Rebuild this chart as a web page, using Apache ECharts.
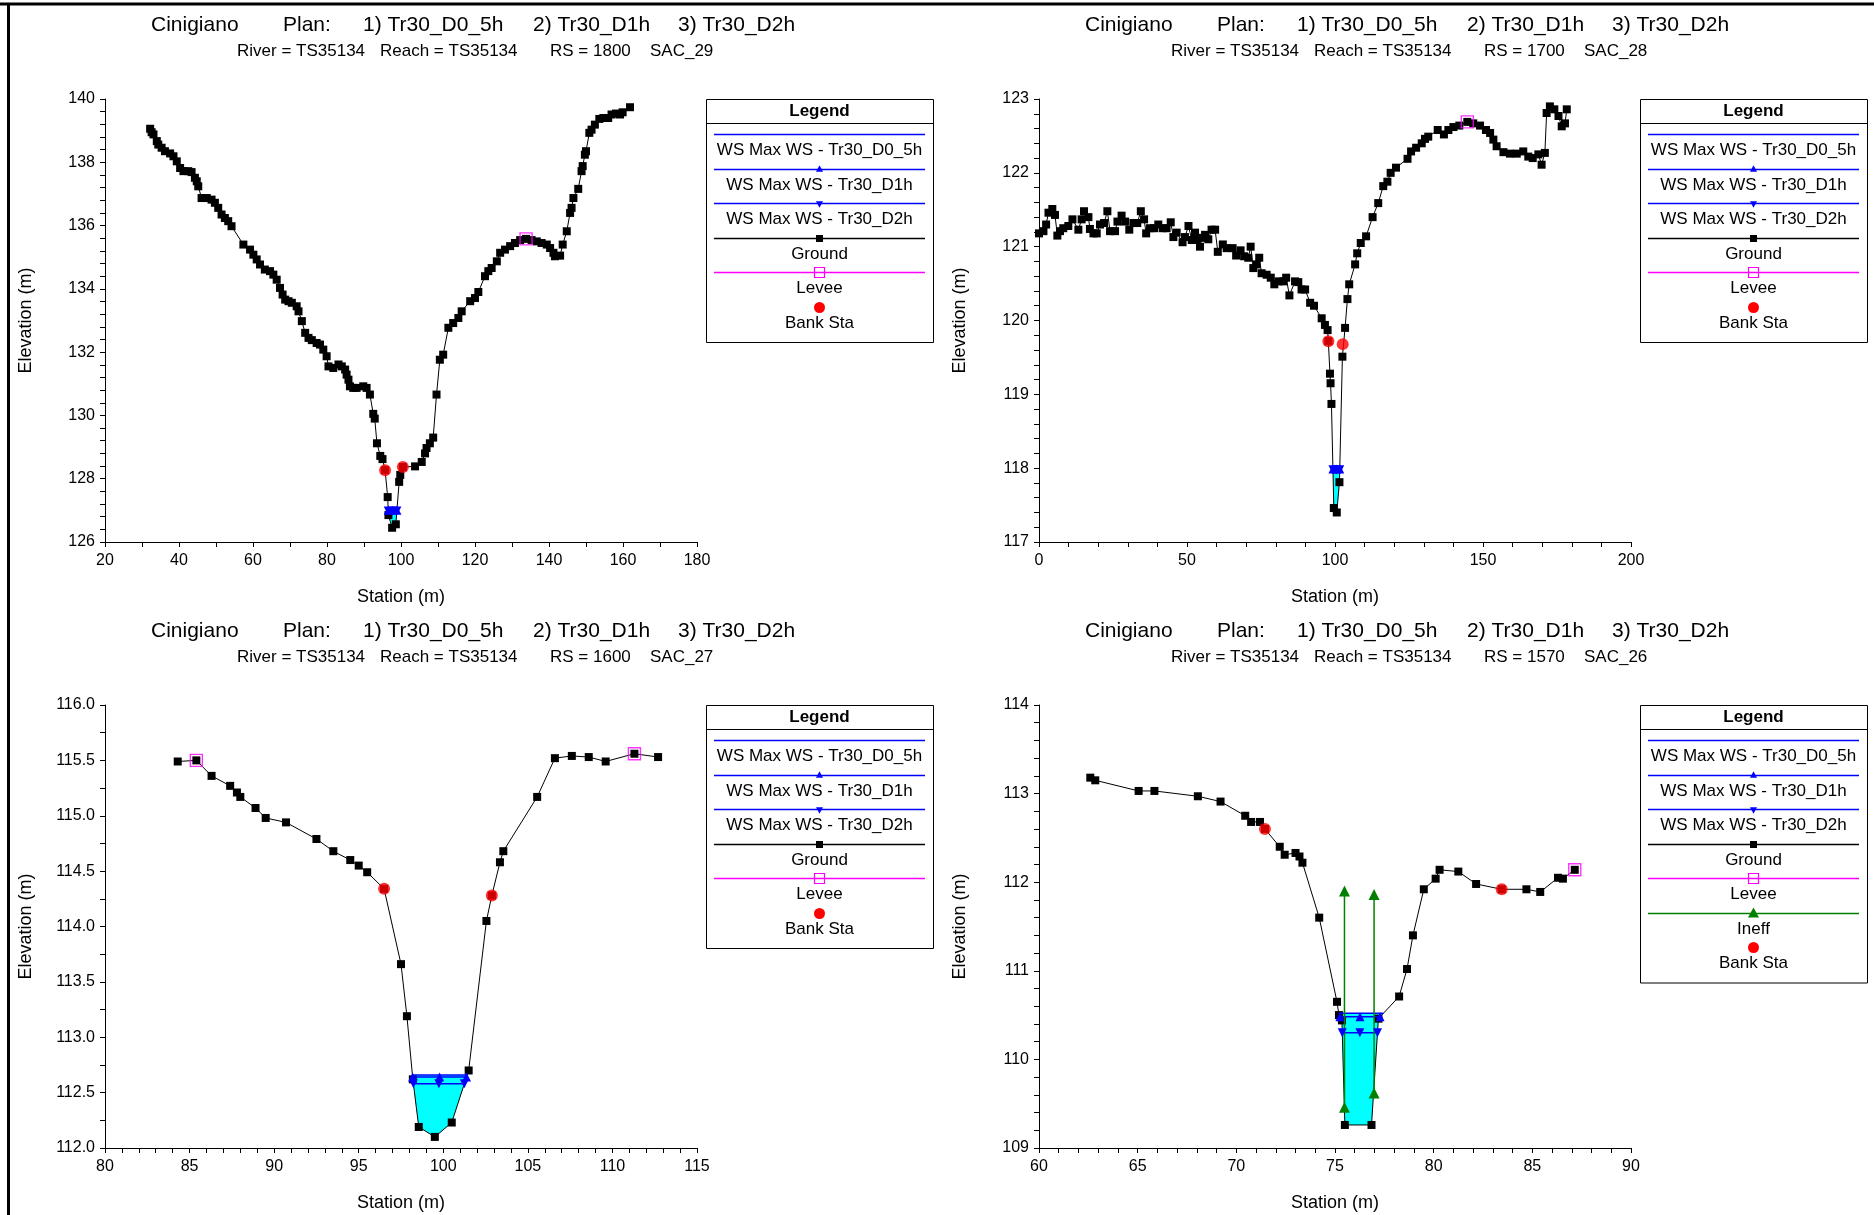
<!DOCTYPE html>
<html><head><meta charset="utf-8">
<script src="https://cdn.jsdelivr.net/npm/echarts/dist/echarts.min.js"></script>
<style>html,body{margin:0;padding:0;background:#fff}#c{width:1874px;height:1215px}</style>
</head><body><div id="c"></div>
<script>
// ---------------- DATA ----------------
const titleParts = ['Cinigiano', 'Plan:', '1) Tr30_D0_5h', '2) Tr30_D1h', '3) Tr30_D2h'];
const riverName = 'TS35134';
const reachName = 'TS35134';
const rsValues = ['1800', '1700', '1600', '1570'];
const sacNames = ['SAC_29', 'SAC_28', 'SAC_27', 'SAC_26'];

const xMin = [20, 0, 80, 60], xMax = [180, 200, 115, 90], xStep = [20, 50, 5, 5], xMinorSplit = [2, 5, 5, 5];
const yMin = [126, 117, 112, 109], yMax = [140, 123, 116, 114], yStep = [2, 1, 0.5, 1], yMinorSplit = [5, 5, 2, 5];
const yDecimals = [0, 0, 1, 0];

// Water surface elevations (Tr30_D0_5h, Tr30_D1h, Tr30_D2h) per section
const wsD0_5h = [127.02, 118.00, 112.66, 110.52];
const wsD1h   = [127.00, 117.99, 112.64, 110.48];
const wsD2h   = [126.98, 117.98, 112.58, 110.30];

const ground1 = [[32.2,139.06],[32.6,138.95],[33.1,138.88],[34.0,138.67],[34.4,138.56],[35.3,138.46],[36.2,138.35],[37.6,138.28],[38.5,138.19],[39.4,138.03],[40.3,137.82],[41.2,137.72],[42.5,137.72],[43.4,137.69],[44.3,137.51],[44.8,137.40],[45.2,137.24],[46.1,136.87],[47.5,136.87],[48.8,136.82],[49.7,136.72],[50.6,136.56],[51.5,136.35],[52.4,136.24],[53.3,136.14],[54.2,135.98],[57.4,135.40],[59.2,135.24],[60.1,135.08],[61.0,134.93],[61.9,134.77],[63.2,134.61],[64.6,134.56],[65.5,134.45],[66.4,134.29],[67.3,134.03],[68.0,133.82],[68.7,133.66],[69.6,133.61],[70.5,133.56],[71.8,133.45],[72.3,133.29],[73.2,132.98],[74.1,132.61],[75.0,132.45],[75.9,132.38],[77.2,132.29],[78.1,132.24],[79.0,132.08],[79.9,131.87],[80.4,131.55],[81.7,131.50],[83.1,131.61],[84.0,131.55],[84.9,131.45],[85.3,131.29],[85.8,131.13],[86.2,130.92],[87.1,130.87],[88.0,130.87],[89.8,130.92],[90.7,130.87],[91.6,130.66],[92.5,130.05],[92.9,129.90],[93.5,129.12],[94.4,128.72],[95.0,128.62],[95.7,128.27],[96.4,127.42],[96.6,126.85],[97.6,126.45],[98.6,126.56],[99.5,127.90],[99.8,128.12],[100.5,128.37],[103.8,128.39],[105.6,128.53],[106.5,128.80],[106.9,128.97],[107.8,129.12],[108.7,129.30],[109.6,130.66],[110.5,131.76],[111.4,131.92],[112.8,132.77],[114.1,132.92],[115.5,133.08],[116.4,133.29],[118.7,133.61],[120.0,133.71],[120.9,133.90],[122.7,134.40],[123.6,134.56],[124.5,134.66],[125.9,134.87],[126.8,135.14],[128.1,135.24],[129.5,135.35],[130.8,135.45],[132.2,135.54],[133.8,135.58],[135.3,135.54],[136.7,135.50],[138.0,135.45],[139.4,135.40],[140.3,135.29],[141.2,135.14],[141.6,135.03],[143.0,135.05],[143.7,135.40],[144.8,135.82],[145.7,136.40],[146.1,136.56],[146.6,136.87],[147.9,137.16],[148.8,137.72],[149.1,137.88],[149.7,138.24],[150.0,138.35],[150.9,138.93],[151.5,139.03],[152.4,139.19],[153.6,139.37],[154.7,139.40],[156.0,139.40],[156.9,139.51],[158.1,139.54],[159.2,139.51],[159.9,139.58],[161.9,139.74]];

const ground2 = [[0.0,121.18],[1.5,121.21],[2.4,121.30],[3.2,121.46],[4.5,121.51],[5.4,121.43],[6.2,121.15],[7.1,121.21],[8.2,121.25],[9.9,121.28],[11.3,121.37],[13.3,121.23],[14.4,121.37],[15.2,121.48],[16.7,121.40],[17.2,121.24],[18.4,121.18],[19.5,121.18],[20.6,121.30],[22.0,121.32],[23.1,121.48],[24.0,121.21],[25.7,121.21],[26.5,121.34],[27.9,121.42],[29.1,121.34],[30.5,121.23],[31.9,121.32],[33.2,121.32],[34.4,121.48],[35.5,121.37],[36.2,121.18],[37.5,121.25],[38.9,121.25],[40.3,121.30],[41.8,121.25],[43.1,121.25],[44.5,121.33],[45.4,121.13],[46.5,121.19],[48.5,121.06],[49.3,121.13],[50.5,121.28],[51.6,121.09],[52.7,121.19],[53.3,121.09],[54.4,121.00],[55.0,121.12],[56.1,121.16],[57.2,121.10],[58.3,121.23],[59.5,121.23],[60.4,120.93],[62.1,121.03],[63.4,120.98],[65.4,120.98],[66.6,120.88],[68.1,120.95],[69.3,120.87],[70.7,120.85],[71.5,121.00],[72.4,120.71],[73.5,120.76],[74.4,120.85],[75.2,120.64],[76.9,120.62],[78.3,120.58],[79.5,120.49],[80.9,120.53],[82.6,120.53],[83.5,120.58],[84.6,120.34],[86.5,120.53],[87.6,120.52],[88.7,120.42],[89.9,120.42],[91.6,120.24],[92.9,120.20],[95.5,120.03],[96.6,119.94],[97.5,119.87],[97.75,119.72],[98.3,119.28],[98.5,119.15],[98.8,118.87],[99.6,117.46],[100.6,117.40],[101.5,117.81],[102.5,119.51],[103.4,119.90],[104.2,120.29],[104.8,120.49],[106.8,120.76],[107.5,120.91],[108.7,121.05],[110.5,121.14],[112.7,121.40],[114.6,121.59],[116.3,121.82],[117.7,121.88],[118.8,122.00],[120.6,122.07],[124.5,122.19],[125.7,122.29],[127.4,122.34],[129.3,122.40],[130.4,122.46],[131.5,122.49],[134.7,122.58],[136.8,122.52],[138.3,122.58],[140.0,122.62],[142.0,122.64],[144.7,122.69],[146.7,122.67],[149.0,122.64],[151.0,122.58],[152.4,122.54],[153.5,122.45],[154.6,122.36],[156.9,122.28],[159.1,122.26],[161.4,122.26],[163.6,122.29],[165.3,122.22],[166.8,122.20],[168.7,122.25],[169.8,122.11],[170.9,122.27],[171.5,122.81],[172.6,122.90],[174.1,122.86],[175.5,122.77],[176.6,122.63],[177.7,122.67],[178.3,122.86]];

const ground3 = [[84.3,115.49],[85.4,115.50],[86.3,115.36],[87.4,115.27],[87.8,115.21],[88.0,115.17],[88.9,115.07],[89.5,114.98],[90.7,114.94],[92.5,114.79],[93.5,114.68],[94.5,114.60],[95.0,114.55],[95.5,114.49],[96.5,114.34],[97.5,113.66],[97.85,113.19],[98.2,112.62],[98.55,112.19],[99.5,112.10],[100.5,112.23],[101.5,112.70],[102.55,114.05],[102.87,114.28],[103.35,114.58],[103.55,114.68],[105.55,115.17],[106.6,115.52],[107.6,115.54],[108.6,115.53],[109.6,115.49],[111.3,115.56],[112.7,115.53]];

const ground4 = [[62.6,113.18],[62.85,113.15],[65.05,113.03],[65.85,113.03],[68.05,112.97],[69.2,112.91],[70.45,112.75],[70.75,112.68],[71.2,112.68],[71.45,112.60],[72.2,112.40],[72.45,112.31],[73.0,112.33],[73.2,112.29],[73.35,112.22],[74.2,111.60],[75.1,110.65],[75.2,110.50],[75.35,110.44],[75.5,109.26],[76.85,109.26],[77.2,110.46],[78.25,110.71],[78.65,111.02],[78.95,111.40],[79.5,111.92],[80.1,112.04],[80.3,112.14],[81.25,112.12],[82.15,111.98],[83.45,111.92],[84.7,111.92],[85.4,111.89],[86.3,112.05],[86.55,112.04],[87.15,112.14]];

const levee1 = [[133.8,135.58]];
const levee2 = [[144.7,122.69]];
const levee3 = [[85.4,115.50],[111.3,115.56]];
const levee4 = [[87.15,112.14]];

const bank1 = [[95.7,128.27],[100.5,128.37]];
const bank2 = [[97.75,119.72],[102.6,119.68]];
const bank3 = [[96.5,114.34],[102.87,114.28]];
const bank4 = [[71.45,112.60],[83.45,111.92]];

// Ineffective flow area markers (section 1570)
const ineffStations = [75.48, 76.98];
const ineffTop = [111.90, 111.86];
const ineffBottom = [109.46, 109.62];

const legendLabels = {
  ws0: 'WS Max WS - Tr30_D0_5h', ws1: 'WS Max WS - Tr30_D1h', ws2: 'WS Max WS - Tr30_D2h',
  ground: 'Ground', levee: 'Levee', ineff: 'Ineff', bank: 'Bank Sta'
};

// ---------------- LAYOUT ----------------
const FONT = 'Liberation Sans, Arial, sans-serif';
const offsets = [[0, 0], [934, 0], [0, 606], [934, 606]];
const grounds = [ground1, ground2, ground3, ground4];
const levees = [levee1, levee2, levee3, levee4];
const banks = [bank1, bank2, bank3, bank4];
const titleX = [151, 283, 363, 533, 678];
const subX = [237, 380, 550, 650];

function waterExtent(g, z) {
  let iMin = 0;
  for (let i = 1; i < g.length; i++) if (g[i][1] < g[iMin][1]) iMin = i;
  let L = g[0][0], iL = 0, R = g[g.length - 1][0], iR = g.length - 1;
  for (let i = iMin; i > 0; i--) {
    if (g[i - 1][1] >= z) { const a = g[i - 1], b = g[i]; L = a[0] + (a[1] - z) / (a[1] - b[1]) * (b[0] - a[0]); iL = i; break; }
  }
  for (let i = iMin; i < g.length - 1; i++) {
    if (g[i + 1][1] >= z) { const a = g[i], b = g[i + 1]; R = a[0] + (z - a[1]) / (b[1] - a[1]) * (b[0] - a[0]); iR = i; break; }
  }
  return { L, R, iL, iR };
}

const grid = [], xAxis = [], yAxis = [], series = [], graphic = [];

graphic.push({ type: 'line', shape: { x1: 0, y1: 4, x2: 1874, y2: 4 }, style: { stroke: '#000', lineWidth: 3 } });
graphic.push({ type: 'line', shape: { x1: 8.5, y1: 3, x2: 8.5, y2: 1215 }, style: { stroke: '#000', lineWidth: 3 } });

function tri(cx, cy, s, down) {
  const h = s * 0.9;
  return down ? [[cx - s / 2, cy - h / 2], [cx + s / 2, cy - h / 2], [cx, cy + h / 2]]
              : [[cx - s / 2, cy + h / 2], [cx + s / 2, cy + h / 2], [cx, cy - h / 2]];
}

function legend(ox, oy, kinds) {
  const L = 706 + ox, T = 99 + oy, W = 227, n = kinds.length;
  const H = 35 + (n - 1) * 34.5 + 35.5;
  const cx = L + W / 2;
  const ch = [];
  ch.push({ type: 'rect', shape: { x: L + 0.5, y: T + 0.5, width: W, height: H }, style: { fill: '#fff', stroke: '#000', lineWidth: 1 } });
  ch.push({ type: 'text', x: cx, y: T + 12, style: { text: 'Legend', fontFamily: FONT, fontSize: 17, fontWeight: 'bold', fill: '#000', align: 'center', verticalAlign: 'middle' } });
  ch.push({ type: 'line', shape: { x1: L, y1: T + 24.5, x2: L + W, y2: T + 24.5 }, style: { stroke: '#000', lineWidth: 1 } });
  kinds.forEach((k, i) => {
    const ly = Math.round(T + 35 + i * 34.5) + 0.5;
    const colors = { ws0: '#0000FF', ws1: '#0000FF', ws2: '#0000FF', ground: '#000', levee: '#FF00FF', ineff: '#008000' };
    if (k !== 'bank') ch.push({ type: 'line', shape: { x1: L + 8, y1: ly, x2: L + W - 8, y2: ly }, style: { stroke: colors[k], lineWidth: 1.5 } });
    if (k === 'ws1') ch.push({ type: 'polygon', shape: { points: tri(cx, ly - 1, 7, false) }, style: { fill: '#0000FF' } });
    if (k === 'ws2') ch.push({ type: 'polygon', shape: { points: tri(cx, ly + 1, 7, true) }, style: { fill: '#0000FF' } });
    if (k === 'ground') ch.push({ type: 'rect', shape: { x: cx - 3.5, y: ly - 3.5, width: 7, height: 7 }, style: { fill: '#000' } });
    if (k === 'levee') ch.push({ type: 'rect', shape: { x: cx - 5, y: ly - 5, width: 10, height: 10 }, style: { fill: 'rgba(0,0,0,0)', stroke: '#FF00FF', lineWidth: 1.2 } });
    if (k === 'ineff') ch.push({ type: 'polygon', shape: { points: tri(cx, ly - 1, 11, false) }, style: { fill: '#008000' } });
    if (k === 'bank') ch.push({ type: 'circle', shape: { cx: cx, cy: ly, r: 5.5 }, style: { fill: '#FF0000' } });
    ch.push({ type: 'text', x: cx, y: ly + 15.5, style: { text: legendLabels[k], fontFamily: FONT, fontSize: 17, fill: '#000', align: 'center', verticalAlign: 'middle' } });
  });
  return { type: 'group', children: ch };
}

for (let p = 0; p < 4; p++) {
  const [ox, oy] = offsets[p];
  grid.push({ left: 105 + ox, top: 99 + oy, width: 592, height: 443, containLabel: false });
  const dec = yDecimals[p];
  xAxis.push({
    type: 'value', gridIndex: p, min: xMin[p], max: xMax[p], interval: xStep[p],
    axisLine: { lineStyle: { color: '#000', width: 1 } },
    axisTick: { length: 5, lineStyle: { color: '#000' } },
    minorTick: { show: true, splitNumber: xMinorSplit[p], length: 5, lineStyle: { color: '#000' } },
    splitLine: { show: false }, minorSplitLine: { show: false },
    axisLabel: { color: '#000', fontSize: 16, fontFamily: FONT, margin: 11 },
    name: 'Station (m)', nameLocation: 'middle', nameGap: 46,
    nameTextStyle: { color: '#000', fontSize: 18, fontFamily: FONT }
  });
  yAxis.push({
    type: 'value', gridIndex: p, min: yMin[p], max: yMax[p], interval: yStep[p],
    axisLine: { show: true, lineStyle: { color: '#000', width: 1 } },
    axisTick: { show: true, length: 5, lineStyle: { color: '#000' } },
    minorTick: { show: true, splitNumber: yMinorSplit[p], length: 5, lineStyle: { color: '#000' } },
    splitLine: { show: false }, minorSplitLine: { show: false },
    axisLabel: { color: '#000', fontSize: 16, fontFamily: FONT, margin: 10, formatter: v => v.toFixed(dec) },
    name: 'Elevation (m)', nameLocation: 'middle', nameGap: 70,
    nameTextStyle: { color: '#000', fontSize: 18, fontFamily: FONT }
  });

  const g = grounds[p];
  const top = waterExtent(g, wsD0_5h[p]);
  const poly = [[top.L, wsD0_5h[p]]].concat(g.slice(top.iL, top.iR + 1)).concat([[top.R, wsD0_5h[p]]]);
  series.push({
    type: 'custom', xAxisIndex: p, yAxisIndex: p, z: 1, silent: true,
    data: [poly[0]],
    renderItem: (params, api) => ({ type: 'polygon', shape: { points: poly.map(pt => api.coord(pt)) }, style: { fill: '#00FFFF' } })
  });
  series.push({
    name: 'Ground', type: 'line', xAxisIndex: p, yAxisIndex: p, z: 3, data: g,
    symbol: 'rect', symbolSize: 8, showAllSymbol: true,
    lineStyle: { color: '#000', width: 1 }, itemStyle: { color: '#000' }
  });
  [[wsD0_5h, 'none', 0], [wsD1h, 'triangle', 0], [wsD2h, 'triangle', 180]].forEach(([arr, sym, rot]) => {
    const e = waterExtent(g, arr[p]);
    series.push({
      type: 'line', xAxisIndex: p, yAxisIndex: p, z: 4,
      data: [[e.L, arr[p]], [(e.L + e.R) / 2, arr[p]], [e.R, arr[p]]],
      symbol: sym, symbolSize: 9, symbolRotate: rot, showSymbol: sym !== 'none',
      lineStyle: { color: '#0000FF', width: 1.5 }, itemStyle: { color: '#0000FF' }
    });
  });
  if (p === 3) {
    ineffStations.forEach((s, i) => {
      series.push({
        type: 'line', xAxisIndex: p, yAxisIndex: p, z: 4,
        data: [[s, ineffBottom[i]], [s, ineffTop[i]]],
        symbol: 'triangle', symbolSize: 11,
        lineStyle: { color: '#008000', width: 1.5 }, itemStyle: { color: '#008000' }
      });
    });
  }
  series.push({
    type: 'scatter', xAxisIndex: p, yAxisIndex: p, z: 5, data: levees[p],
    symbol: 'rect', symbolSize: 12,
    itemStyle: { color: 'rgba(0,0,0,0)', borderColor: '#FF00FF', borderWidth: 1.4 }
  });
  series.push({
    type: 'scatter', xAxisIndex: p, yAxisIndex: p, z: 6, data: banks[p],
    symbol: 'circle', symbolSize: 12, itemStyle: { color: '#FF0000' }
  });

  // titles
  titleParts.forEach((t, i) => {
    graphic.push({ type: 'text', x: titleX[i] + ox, y: 25 + oy, style: { text: t, fontFamily: FONT, fontSize: 21, fill: '#000', align: 'left', verticalAlign: 'middle' } });
  });
  const subs = ['River = ' + riverName, 'Reach = ' + reachName, 'RS = ' + rsValues[p], sacNames[p]];
  subs.forEach((t, i) => {
    graphic.push({ type: 'text', x: subX[i] + ox, y: 51 + oy, style: { text: t, fontFamily: FONT, fontSize: 17, fill: '#000', align: 'left', verticalAlign: 'middle' } });
  });
  const kinds = p === 3 ? ['ws0', 'ws1', 'ws2', 'ground', 'levee', 'ineff', 'bank'] : ['ws0', 'ws1', 'ws2', 'ground', 'levee', 'bank'];
  graphic.push(legend(ox, oy, kinds));
}

const chart = echarts.init(document.getElementById('c'), null, { renderer: 'canvas' });
chart.setOption({ animation: false, backgroundColor: '#fff', grid, xAxis, yAxis, series, graphic });
</script></body></html>
